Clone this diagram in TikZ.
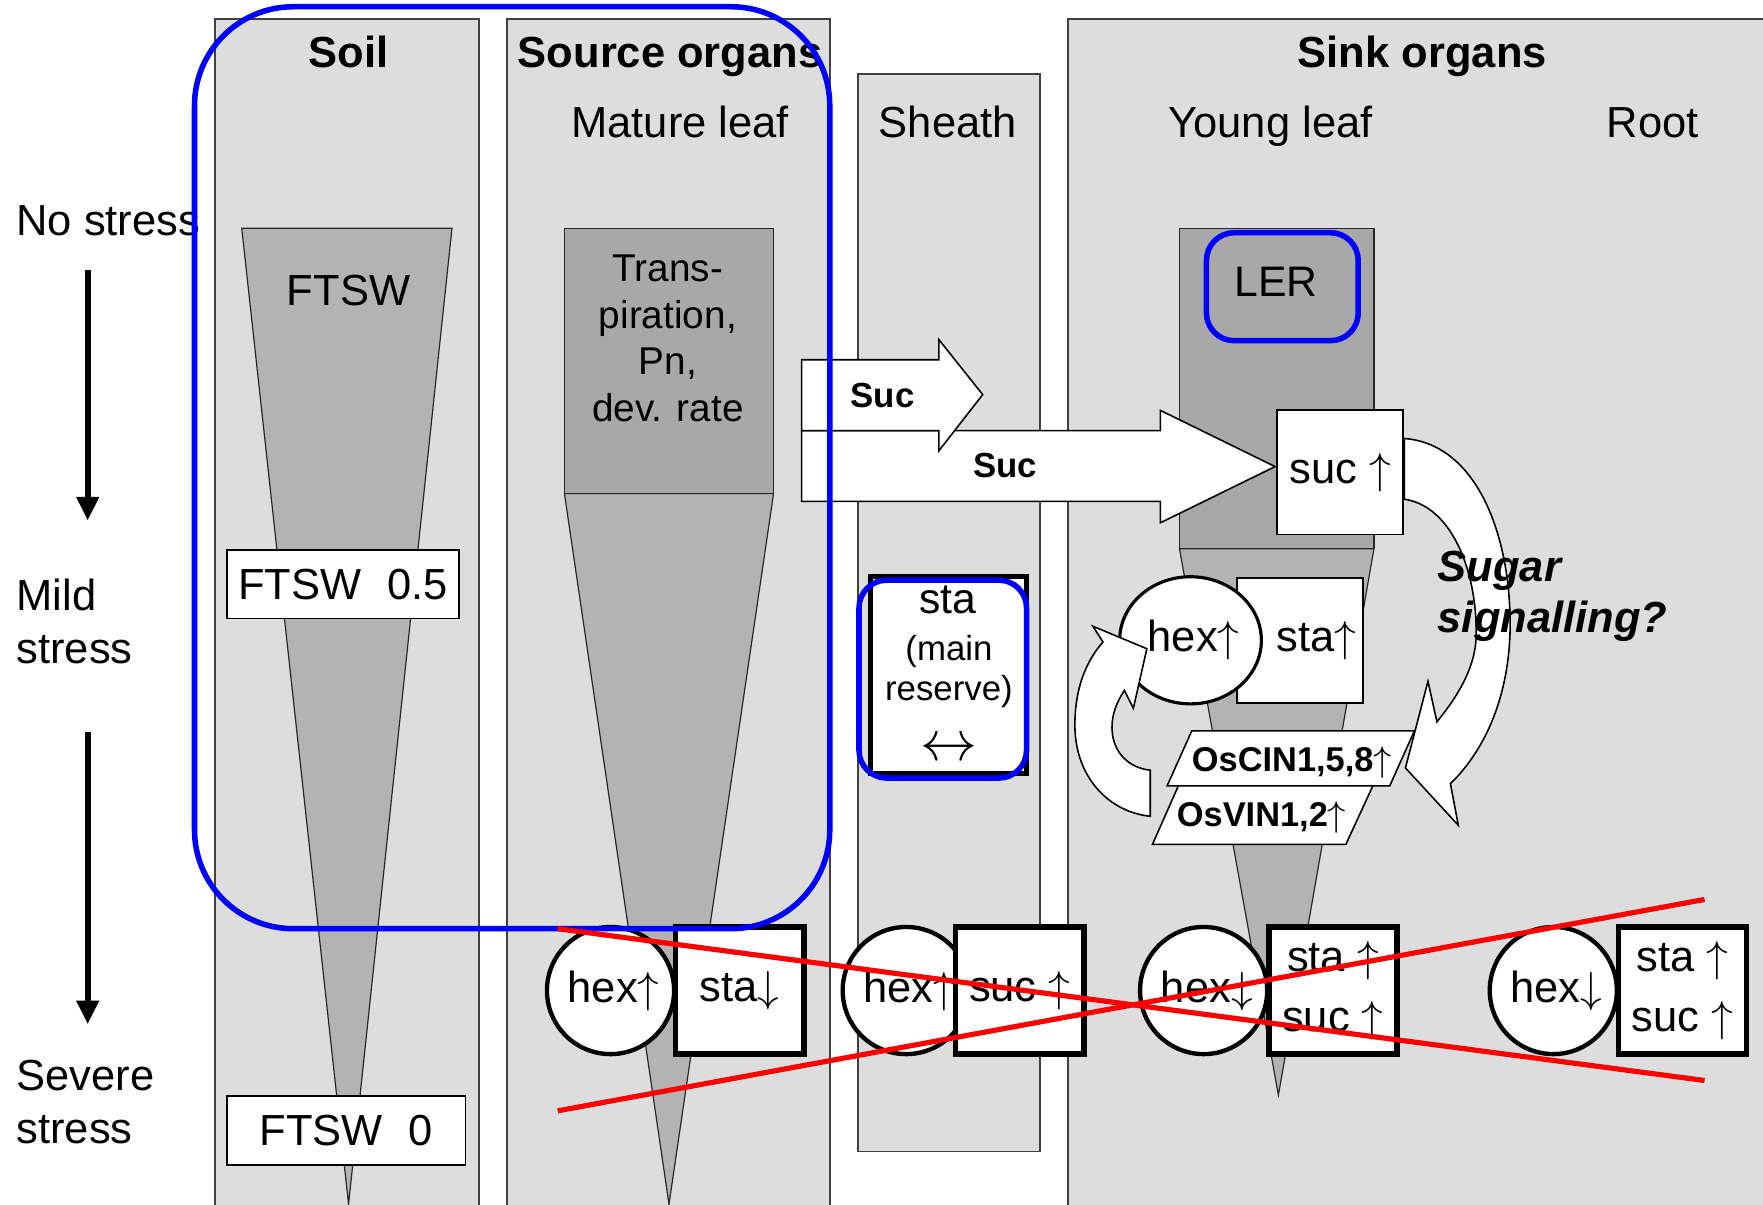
\documentclass[tikz,border=0pt]{standalone}
\usepackage{fontspec}
\setmainfont{Liberation Sans}
\usetikzlibrary{positioning,shapes.geometric,arrows.meta}
\definecolor{panelgray}{RGB}{221,221,221}
\definecolor{conegray}{RGB}{179,179,179}
\definecolor{shadegray}{RGB}{168,168,168}
\newcommand{\up}{$\uparrow$}
\newcommand{\down}{$\downarrow$}
\tikzset{
  panel/.style={draw=black!75, fill=panelgray, line width=0.4pt},
  cone/.style={draw=black!85, fill=conegray, line width=0.3pt},
  shade/.style={draw=black!85, fill=shadegray, line width=0.3pt},
  title/.style={font=\bfseries\fontsize{11}{13}\selectfont, inner sep=0pt, anchor=base},
  organ/.style={font=\fontsize{11}{13}\selectfont, inner sep=0pt, anchor=base},
  level/.style={font=\fontsize{11}{13.4}\selectfont, inner sep=0pt, align=left, anchor=west},
  stress/.style={-{Triangle[length=2.1mm,width=1.9mm]}, line width=1.6pt},
  valbox/.style={draw, fill=white, line width=0.4pt, minimum height=0.61cm, inner sep=0pt, font=\fontsize{11}{13}\selectfont},
  flow/.style={draw, fill=white, line width=0.4pt},
  suclbl/.style={font=\bfseries\fontsize{8.8}{10}\selectfont, inner sep=0pt, anchor=base},
  sugbox/.style={draw, fill=white, line width=0.4pt, minimum width=1.12cm, minimum height=1.11cm, inner sep=0pt, align=center, font=\fontsize{11}{15}\selectfont},
  bigbox/.style={sugbox, line width=1.4pt, minimum width=1.14cm, minimum height=1.13cm},
  hexnode/.style={ellipse, draw, fill=white, line width=1.1pt, minimum width=1.13cm, minimum height=1.13cm, inner sep=0pt, text width=0.76cm, align=center, font=\fontsize{11}{13}\selectfont},
  gene/.style={font=\bfseries\fontsize{8.7}{10}\selectfont, inner sep=0pt, anchor=base},
  ring/.style={draw=blue, line width=1.4pt},
  cross/.style={draw=red, line width=1.3pt},
}
\begin{document}
\begin{tikzpicture}[x=0.01cm, y=-0.01cm]
\useasboundingbox (0,0) rectangle (1568,1071);
\draw[panel] (191,17) rectangle (426,1090);
\draw[panel] (451,17) rectangle (738,1090);
\draw[panel] (763,66) rectangle (925,1024);
\draw[panel] (950,17) rectangle (1590,1090);
%
\draw[cone] (215,203) -- (402,203) -- (310,1071) -- cycle;
\draw[cone] (502,439) -- (688,439) -- (595,1071) -- cycle;
\draw[shade] (502,203) rectangle (688,439);
\draw[cone] (1049,488) -- (1222,488) -- (1137,974) -- cycle;
\draw[shade] (1049,203) rectangle (1222,488);
%
\node[level] (nost) at (14,196) {No stress};
\node[level] (mild) at (14,553) {Mild\\stress};
\node[level] (sev) at (14,980) {Severe\\stress};
\coordinate (ar1a) at (78,240); \coordinate (ar1b) at (78,463);
\coordinate (ar2a) at (78,651); \coordinate (ar2b) at (78,911);
\draw[stress] (ar1a) -- (ar1b);
\draw[stress] (ar2a) -- (ar2b);
%
\node[title] (soil) at (310,60) {Soil};
\node[title] (source) at (596,60) {Source organs};
\node[title] (sink) at (1265,60) {Sink organs};
\node[organ] (mature) at (605,122.5) {Mature leaf};
\node[organ] (sheath) at (843,122.5) {Sheath};
\node[organ] (young) at (1130,122.5) {Young leaf};
\node[organ] (root) at (1470,122.5) {Root};
\node[organ] (ftsw) at (310,272) {FTSW};
\node[inner sep=0pt, align=center, font=\fontsize{9.8}{11.8}\selectfont] (transp) at (594,301) {Trans-\\piration,\\Pn,\\dev. rate};
\node[valbox, minimum width=2.06cm] (ftswmid) at (305,519.5) {FTSW\hspace{0.6em}0.5};
\node[valbox, minimum width=2.12cm] (ftswlow) at (308,1005.5) {FTSW\hspace{0.6em}0};
\node[organ, font=\fontsize{10.8}{13}\selectfont] (ler) at (1135,264) {LER};
%
\draw[flow] (713,383) -- (1032,383) -- (1032,365) -- (1134,415) -- (1032,465) -- (1032,446) -- (713,446) -- cycle;
\draw[flow] (713,320) -- (835,320) -- (835,302) -- (874,351) -- (835,401) -- (835,383) -- (713,383) -- cycle;
\node[suclbl] (suca) at (785,362.5) {Suc};
\node[suclbl] (sucb) at (894,425) {Suc};
\node[sugbox] (sucY) at (1192,420) {suc \up};
\draw[flow] (1249,390) .. controls (1315,395) and (1345,480) .. (1343,563) .. controls (1341,625) and (1318,670) .. (1290,697) -- (1297,734) -- (1250,683) -- (1270,606) -- (1278,642) .. controls (1300,615) and (1313,590) .. (1313,563) .. controls (1313,505) and (1290,450) .. (1249,444) -- cycle;
\node[font=\bfseries\itshape\fontsize{11}{12.9}\selectfont, inner sep=0pt, align=left, anchor=west] (signal) at (1278,530) {Sugar\\signalling?};
%
\node[sugbox] (staY) at (1156,569.5) {\hspace{0.3cm}sta\up};
\node[hexnode, line width=0.8pt, minimum width=1.26cm, left=-0.24cm of staY] (hexY) {hex\up};
\draw[flow] (1023,726) .. controls (985,722) and (956,690) .. (956,645) .. controls (956,612) and (966,588) .. (981,571) -- (972,557) -- (1020,577) -- (1008,630) -- (1000,614) .. controls (993,625) and (989,635) .. (989,647) .. controls (989,668) and (1003,683) .. (1023,685) -- cycle;
\draw[flow] (1060,650) -- (1258,650) -- (1236,699) -- (1038,699) -- cycle;
\draw[flow] (1048,699) -- (1221,699) -- (1197,751) -- (1025,751) -- cycle;
\node[gene] (oscin) at (1149,686) {OsCIN1,5,8\up};
\node[gene] (osvin) at (1122,735) {OsVIN1,2\up};
%
\node[draw, fill=white, line width=1.3pt, minimum width=1.39cm, minimum height=1.75cm, inner sep=0pt] (resbox) at (843.5,600.5) {};
\node[organ, font=\fontsize{10.8}{13}\selectfont] (sta) at (843,546) {sta};
\node[inner sep=0pt, align=center, font=\fontsize{8.8}{10.2}\selectfont] (mainres) at (844,597.5) {(main\\reserve)};
\node[inner sep=0pt, font=\fontsize{13.5}{15}\selectfont] (swap) at (844,666.7) {$\leftrightarrow$};
%
\node[hexnode] (hexS) at (543,881) {hex\up};
\node[bigbox, right=-0.03cm of hexS] (staS) {sta\down};
\node[hexnode] (hexSh) at (806,881) {hex\up};
\node[bigbox, right=-0.17cm of hexSh] (sucSh) {suc \up};
\node[hexnode] (hexYb) at (1070.5,881) {hex\down};
\node[bigbox, right=-0.03cm of hexYb] (staYb) {sta \up\\suc \up};
\node[hexnode] (hexR) at (1381.5,881) {hex\down};
\node[bigbox, right=-0.03cm of hexR] (staR) {sta \up\\suc \up};
%
\draw[ring, rounded corners=25pt] (173,6) rectangle (738,826);
\draw[ring, rounded corners=7pt] (1073,207) rectangle (1208,303);
\draw[ring, rounded corners=7pt] (764,516) rectangle (913,692);
\coordinate (xa) at (496,826); \coordinate (xb) at (1516,961);
\coordinate (xc) at (496,988); \coordinate (xd) at (1516,800);
\draw[cross] (xa) -- (xb);
\draw[cross] (xc) -- (xd);
\end{tikzpicture}
\end{document}
